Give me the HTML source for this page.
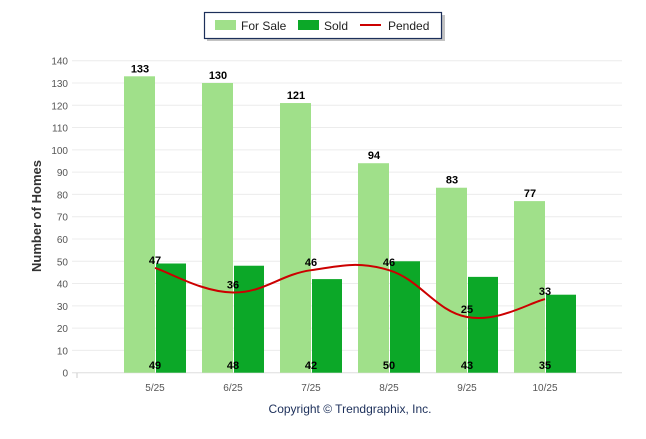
<!DOCTYPE html>
<html><head><meta charset="utf-8"><style>
body{margin:0;background:#fff;font-family:"Liberation Sans",Arial,sans-serif}
</style></head><body>
<svg id="c" width="646" height="434" xmlns="http://www.w3.org/2000/svg">
<g>
<rect x="207" y="15" width="238" height="26" fill="#888" opacity="0.5"/>
<rect x="204.5" y="12.5" width="237" height="26" fill="#fff" stroke="#1c2f5a" stroke-width="1.2"/>
<rect x="215" y="20" width="21" height="10" fill="#a0e08a"/>
<text x="241" y="30" font-size="12" fill="#222">For Sale</text>
<rect x="298" y="20" width="21" height="10" fill="#0ca828"/>
<text x="324" y="30" font-size="12" fill="#222">Sold</text>
<line x1="360" y1="25" x2="381" y2="25" stroke="#cc0000" stroke-width="2"/>
<text x="388" y="30" font-size="12" fill="#222">Pended</text>
</g>
<text transform="translate(41,216) rotate(-90)" text-anchor="middle" font-size="13" font-weight="bold" fill="#333">Number of Homes</text>
<text x="350" y="413" text-anchor="middle" font-size="12" fill="#1c2f5a">Copyright © Trendgraphix, Inc.</text>
<g id="g"></g>
</svg>
<script>
const categories=["5/25","6/25","7/25","8/25","9/25","10/25"];
const forSale=[133,130,121,94,83,77];
const sold=[49,48,42,50,43,35];
const pended=[47,36,46,46,25,33];
const yTicks=[0,10,20,30,40,50,60,70,80,90,100,110,120,130,140];
const NS="http://www.w3.org/2000/svg",g=document.getElementById('g');
const y=v=>372.7-v*(312/140);
const x=i=>155+78*i;
function mk(t,a,p){const e=document.createElementNS(NS,t);for(const k in a)e.setAttribute(k,a[k]);(p||g).appendChild(e);return e;}
yTicks.forEach(v=>{
 const l=mk('line',{x1:72,x2:622,y1:y(v),y2:y(v),stroke:v?'#ececec':'#ddd','stroke-width':1});
 
 
 const t=mk('text',{x:68,y:y(v)+4,'text-anchor':'end','font-size':10,fill:'#555'});t.textContent=v;
 
 
});
mk('line',{x1:77,x2:77,y1:373,y2:378,stroke:'#ccc'});
categories.forEach((c,i)=>{
 const cx=x(i);
 const b1=mk('rect',{x:cx-31,y:y(forSale[i]),width:31,height:y(0)-y(forSale[i]),fill:'#a0e08a'});
 
 
 const b2=mk('rect',{x:cx+1,y:y(sold[i]),width:30,height:y(0)-y(sold[i]),fill:'#0ca828'});
 
 
 const t=mk('text',{x:cx,y:391,'text-anchor':'middle','font-size':10,fill:'#555'});t.textContent=c;
 
 
 const l1=mk('text',{x:cx-15,y:y(forSale[i])-4,'text-anchor':'middle','font-size':11,'font-weight':'bold',fill:'#000'});l1.textContent=forSale[i];
 
 
 const l2=mk('text',{x:cx,y:369,'text-anchor':'middle','font-size':11,'font-weight':'bold',fill:'#000'});l2.textContent=sold[i];
 
 
});
// smooth pended line (monotone-ish cardinal)
const pts=pended.map((v,i)=>[x(i),y(v)]);
let d=`M${pts[0][0]},${pts[0][1]}`;
for(let i=0;i<pts.length-1;i++){
 const p0=pts[i-1]||pts[i],p1=pts[i],p2=pts[i+1],p3=pts[i+2]||p2,k=0.2;
 d+=` C${p1[0]+(p2[0]-p0[0])*k},${p1[1]+(p2[1]-p0[1])*k} ${p2[0]-(p3[0]-p1[0])*k},${p2[1]-(p3[1]-p1[1])*k} ${p2[0]},${p2[1]}`;
}
const pl=mk('path',{d:d,fill:'none',stroke:'#cc0000','stroke-width':2});


pended.forEach((v,i)=>{
 const t=mk('text',{x:x(i),y:y(v)-4,'text-anchor':'middle','font-size':11,'font-weight':'bold',fill:'#000'});t.textContent=v;
 
 
});
</script>
</body></html>
